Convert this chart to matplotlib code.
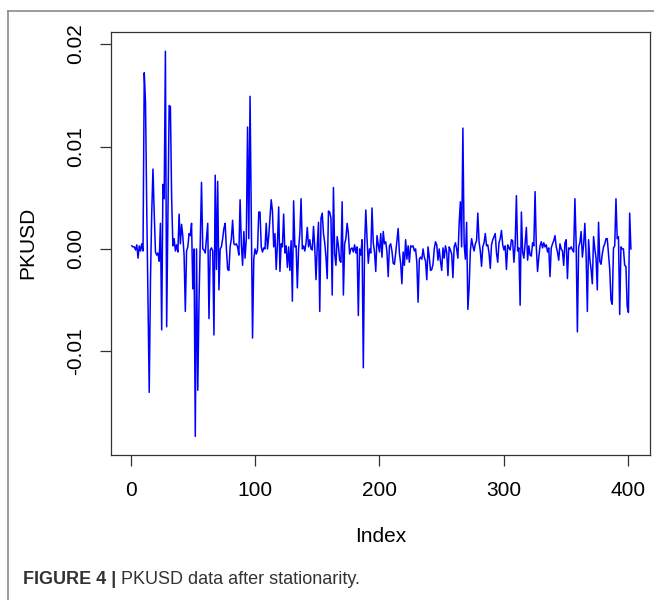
import matplotlib
matplotlib.use("Agg")
import matplotlib.pyplot as plt
from matplotlib.lines import Line2D
import numpy as np

plt.rcParams['font.family'] = ['Liberation Sans', 'DejaVu Sans']

# PKUSD differenced series (units of 1e-3)
pk_001_100 = [
    0.3, 0.2, 0.2, -0.1, 0.4, -0.9, 0.3, -0.2, 0.5, -0.2,
    17.2, 14.3, 4.0, -5.0, -14.0, -3.0, 3.5, 7.8, 3.5, -0.3,
    -0.6, -0.4, -1.2, 2.5, -7.9, 6.3, 4.9, 19.3, -7.6, 3.0,
    14.0, 13.9, 5.0, 0.3, 1.0, -0.2, 0.4, -0.3, 3.4, 0.5,
    2.4, 1.2, -0.6, -6.1, -0.2, 0.2, 1.5, 1.3, 2.5, -3.9,
    0.0, -18.3, 0.0, -13.8, -5.0, 1.0, 6.5, 0.0, -0.1, -0.4,
    1.0, 2.5, -6.8, -0.1, 0.1, -0.2, -8.4, 7.2, -2.0, 6.6,
    -4.0, 0.0, 0.2, 1.0, 2.0, 2.5, 0.0, -2.0, -2.1, 0.2,
    1.0, 2.8, 0.5, 0.4, 0.5, 0.2, -0.6, 4.8, 0.5, -1.6,
    1.7, -0.9, 1.0, 11.9, 1.0, 14.9, 3.0, -8.7, -1.0, 0.0,
]
pk_101_200 = [
    -0.5, -0.1, 3.6, 3.6, 0.2, -0.3, 0.1, 0.0, 2.5, 0.0,
    1.2, 3.0, 4.8, 3.7, 0.2, 1.5, -2.0, 0.5, 4.1, -2.2,
    0.5, 0.2, 3.4, -0.4, 0.3, -1.8, 0.2, -2.1, 0.8, -5.1,
    4.7, 0.2, 0.3, -3.8, 0.0, 1.5, 4.9, 0.0, 0.3, -0.2,
    0.6, 2.1, 0.2, 0.9, 0.0, -0.1, 2.2, 0.1, -3.0, 0.3,
    2.6, -6.1, 3.0, 3.5, 1.5, 0.6, -0.8, -2.9, 3.7, 3.6,
    3.0, -4.5, 6.0, -0.5, -1.6, 1.2, 0.3, -1.1, -1.3, 4.6,
    -4.5, 0.5, 1.0, 2.5, 1.5, -0.5, 0.0, 0.1, -0.3, 0.4,
    -0.4, 0.2, -6.5, 0.0, -0.6, 0.9, -11.6, 0.2, 3.8, 1.0,
    -1.4, 0.0, -0.4, 4.0, 0.6, -0.3, -2.2, 1.3, 0.4, -0.3,
]
pk_201_300 = [
    1.5, -0.8, 1.7, 0.5, 0.7, -0.3, -2.7, 0.3, 0.5, -0.2,
    -1.4, -1.5, -0.4, 0.8, 2.0, -0.4, -1.4, -3.4, -0.3, -1.6,
    0.9, -1.0, 0.3, -1.3, 0.3, 0.2, 0.3, -0.2, 0.0, -1.3,
    -5.2, -1.0, -0.8, -1.0, 0.0, -0.8, -1.2, -3.0, 0.2, -0.8,
    -2.1, -2.0, -1.5, 0.0, 0.7, 0.4, -1.1, 0.0, -1.2, -2.1,
    0.1, -0.9, 0.3, -0.3, -2.6, 0.2, -0.1, -0.5, -2.8, 0.2,
    0.6, 0.0, -0.9, 2.5, 4.6, 0.2, 11.8, 0.5, -1.0, 2.6,
    -5.9, -3.8, -0.2, 1.0, 0.3, -0.2, 0.5, 0.8, 3.5, 0.7,
    -0.2, -1.7, 0.2, 0.6, 1.5, 0.3, 0.4, -0.4, -1.9, 0.4,
    0.9, 1.2, 1.5, -0.4, -1.3, 0.6, 1.0, 1.8, 0.4, -0.1,
]
pk_301_402 = [
    0.3, -2.0, 0.4, 0.1, -0.1, 0.9, 0.8, -1.3, 0.4, 5.2,
    -0.2, 0.1, -5.5, 3.6, -0.3, -0.9, 0.5, 2.1, -1.1, 0.3,
    -0.6, -0.7, 0.6, 0.3, 5.6, 0.2, -2.2, -0.8, 0.3, 0.7,
    0.1, 0.6, 0.2, 0.4, -0.3, 0.1, -2.7, 0.1, 0.5, 0.8,
    1.3, 0.2, -0.3, -1.1, 0.5, 0.0, -0.2, -1.6, 0.6, 0.9,
    -2.9, 0.1, 0.0, 0.2, -0.1, -0.3, 4.9, 0.5, -8.1, 0.2,
    0.6, 1.7, -0.8, 0.4, 2.5, -0.6, -6.1, 0.9, -1.0, -2.0,
    -3.4, 1.2, 0.0, -0.9, -4.0, 2.6, -1.2, -1.5, -0.5, 0.2,
    0.5, 1.0, 1.0, -0.5, -2.0, -5.0, -5.4, 0.1, 0.3, 4.9,
    1.0, 1.2, -6.4, 0.2, 0.0, 0.0, -1.6, -1.7, -5.6, -6.2,
    3.5, 0.0,
]

pkusd = np.array(pk_001_100 + pk_101_200 + pk_201_300 + pk_301_402) / 1000.0
index = np.arange(1, len(pkusd) + 1)

x_ticks = [0, 100, 200, 300, 400]
y_ticks = [-0.01, 0.00, 0.01, 0.02]
y_tick_labels = ['-0.01', '0.00', '0.01', '0.02']

fig = plt.figure(figsize=(6.54, 6.00), dpi=100)
ax = fig.add_axes([0.169, 0.242, 0.825, 0.705])

ax.plot(index, pkusd, color='#0000FF', linewidth=1.1)

ax.set_xlim(-16.1, 417.4)
ax.set_ylim(-0.0201, 0.0212)

ax.set_xticks(x_ticks)
ax.set_xticklabels([str(t) for t in x_ticks], fontsize=15)
ax.set_yticks(y_ticks)
ax.set_yticklabels(y_tick_labels, fontsize=15, rotation=90, va='center')
ax.tick_params(direction='out', length=8, width=0.9, color='#333333')
ax.tick_params(axis='x', pad=11)
ax.tick_params(axis='y', pad=10)

for s in ax.spines.values():
    s.set_color('#333333')
    s.set_linewidth(0.9)

ax.set_xlabel('Index', fontsize=15, labelpad=19)
ax.set_ylabel('PKUSD', fontsize=15, labelpad=21)

# outer panel frame
fig.add_artist(Line2D([8 / 654, 8 / 654], [0, 1 - 11 / 600], color='#8a8a8a', linewidth=1.2))
fig.add_artist(Line2D([8 / 654, 1], [1 - 11 / 600, 1 - 11 / 600], color='#8a8a8a', linewidth=1.2))

# caption
cap1 = fig.text(23 / 654, 1 - 580 / 600, 'FIGURE 4 |', fontsize=13, fontweight='bold',
                color='#333333', va='center', ha='left')
ax.annotate(' PKUSD data after stationarity.', xy=(1, 0.5), xycoords=cap1,
            fontsize=13, color='#333333', va='center', ha='left', annotation_clip=False)

fig.savefig('out.png', dpi=100)
